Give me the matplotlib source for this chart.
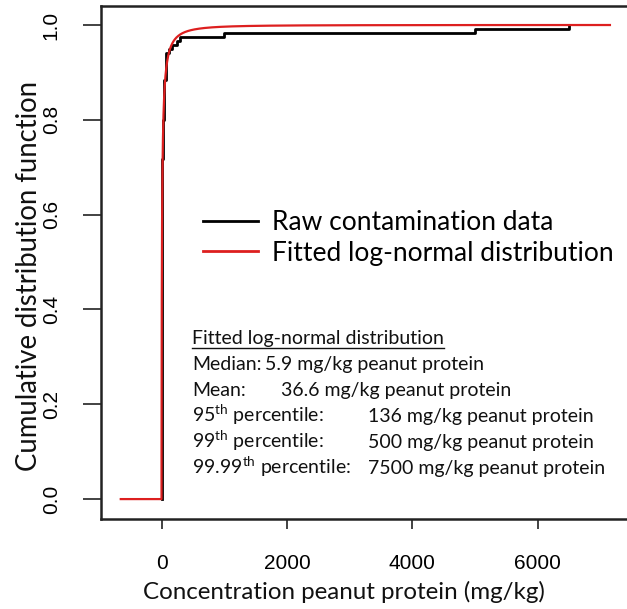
import math
import numpy as np
import matplotlib
matplotlib.use("Agg")
import matplotlib.pyplot as plt
from matplotlib.lines import Line2D

# ---------------- data ----------------
# raw contamination data (mg/kg peanut protein) with number of samples at each value
raw_conc = [0.5, 1, 2, 4, 8, 15, 25, 40, 64, 112, 175, 240, 300, 1000, 5000, 6500]
raw_count = [20, 15, 15, 12, 12, 12, 10, 10, 7, 1, 1, 1, 1, 1, 1, 1]

# fitted log-normal distribution summary
fit_median = 5.9
fit_mean = 36.6
fit_range = [-650, 7150]

x_ticks = [0, 2000, 4000, 6000]
y_ticks = [0.0, 0.2, 0.4, 0.6, 0.8, 1.0]
y_tick_labels = ["0.0", "0.2", "0.4", "0.6", "0.8", "1.0"]

summary_labels = ["Median:", "Mean:", r"95$^{\mathrm{th}}$ percentile:",
                  r"99$^{\mathrm{th}}$ percentile:", r"99.99$^{\mathrm{th}}$ percentile:"]
summary_values = ["5.9 mg/kg peanut protein", "36.6 mg/kg peanut protein",
                  "136 mg/kg peanut protein", "500 mg/kg peanut protein",
                  "7500 mg/kg peanut protein"]

# ---------------- figure ----------------
W, H = 627, 609
plt.rcParams["mathtext.fontset"] = "custom"
plt.rcParams["mathtext.rm"] = "Lato"
plt.rcParams["mathtext.it"] = "Lato:italic"
plt.rcParams["mathtext.bf"] = "Lato:bold"

fig = plt.figure(figsize=(W / 100, H / 100), dpi=100)
ax = fig.add_axes([101 / W, 1 - 519 / H, (630 - 101) / W, (519 - 6) / H])

def px(x, y):
    return x / W, 1 - y / H

# ECDF of raw data
n = int(np.sum(raw_count))
uniq = np.array(raw_conc, dtype=float)
cum = np.cumsum(raw_count) / n
step_x = np.concatenate([[uniq[0]], uniq])
step_y = np.concatenate([[0.0], cum])
ax.step(step_x, step_y, where="post", color="black", lw=2.0, zorder=2)

# fitted log-normal CDF
mu = math.log(fit_median)
sigma = math.sqrt(2 * math.log(fit_mean / fit_median))
xg = np.concatenate([[fit_range[0], 0.0], np.geomspace(0.01, fit_range[1], 600)])
yg = np.array([0.0 if v <= 0 else 0.5 * (1 + math.erf((math.log(v) - mu) / (sigma * math.sqrt(2)))) for v in xg])
ax.plot(xg, yg, color="#dd1f1f", lw=1.6, zorder=3)

ax.set_xlim(-965, 7470)
ax.set_ylim(-0.042, 1.04)
ax.set_xticks(x_ticks)
ax.set_xticklabels([str(t) for t in x_ticks], fontfamily="Liberation Sans", fontsize=15)
ax.set_yticks(y_ticks)
ax.set_yticklabels(y_tick_labels, fontfamily="Liberation Sans", fontsize=15,
                   rotation=90, va="center")
ax.tick_params(axis="x", length=7, width=1.2, pad=18, color="#222222")
ax.tick_params(axis="y", length=13, width=1.2, pad=16, color="#222222")
for s in ax.spines.values():
    s.set_linewidth(1.8)
    s.set_color("#222222")

# axis labels
fig.text(*px(344, 592), "Concentration peanut protein (mg/kg)", family="Lato",
         fontsize=17.4, ha="center", va="center", color="#111111")
fig.text(*px(29, 276), "Cumulative distribution function", family="Lato",
         fontsize=19.8, ha="center", va="center", rotation=90, color="#111111")

# legend
handles = [Line2D([], [], color="black", lw=2.0),
           Line2D([], [], color="#dd1f1f", lw=2.0)]
leg = fig.legend(handles, ["Raw contamination data", "Fitted log-normal distribution"],
                 loc="center left", bbox_to_anchor=px(203, 238), frameon=False,
                 prop={"family": "Lato", "size": 19}, handlelength=2.1,
                 handletextpad=0.5, labelspacing=0.2, borderpad=0, borderaxespad=0)

# summary block
fs = 14
header = fig.text(*px(192, 344), "Fitted log-normal distribution", family="Lato",
                  fontsize=fs, ha="left", va="baseline", color="#111111")
fig.add_artist(Line2D([192 / W, 444 / W], [1 - 348 / H, 1 - 348 / H],
                      color="#111111", lw=1.0, transform=fig.transFigure))
val_x = [265, 281, 368, 368, 368]
for i, (lab, val) in enumerate(zip(summary_labels, summary_values)):
    yb = 370 + i * 26
    fig.text(*px(192, yb), lab, family="Lato", fontsize=fs, ha="left",
             va="baseline", color="#111111")
    fig.text(*px(val_x[i], yb), val, family="Lato", fontsize=fs, ha="left",
             va="baseline", color="#111111")

fig.savefig("out.png", dpi=100)
